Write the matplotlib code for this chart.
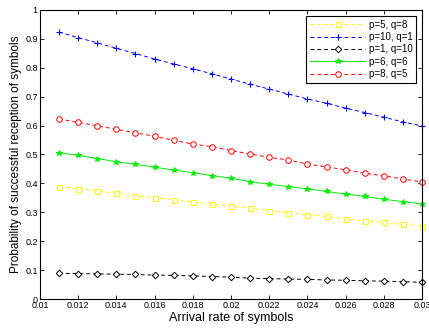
import matplotlib
matplotlib.use('Agg')
import matplotlib.pyplot as plt
import numpy as np
from matplotlib.ticker import FuncFormatter

plt.rcParams['font.family'] = ['Liberation Sans', 'DejaVu Sans']

# arrival rate of symbols
x = np.arange(11, 31) / 1000.0

p5_q8 = [0.389, 0.382, 0.374, 0.366, 0.357, 0.351, 0.343, 0.336, 0.329, 0.321,
         0.314, 0.306, 0.299, 0.291, 0.286, 0.277, 0.271, 0.265, 0.258, 0.253]
p10_q1 = [0.923, 0.904, 0.886, 0.867, 0.849, 0.830, 0.813, 0.796, 0.779, 0.761,
          0.743, 0.726, 0.709, 0.692, 0.677, 0.660, 0.645, 0.629, 0.612, 0.599]
p1_q10 = [0.089, 0.088, 0.087, 0.086, 0.085, 0.083, 0.082, 0.080, 0.078, 0.076,
          0.072, 0.071, 0.069, 0.068, 0.066, 0.065, 0.063, 0.062, 0.060, 0.058]
p6_q6 = [0.506, 0.497, 0.486, 0.475, 0.466, 0.456, 0.446, 0.437, 0.427, 0.418,
         0.406, 0.397, 0.389, 0.381, 0.372, 0.363, 0.355, 0.345, 0.337, 0.329]
p8_q5 = [0.623, 0.611, 0.599, 0.587, 0.575, 0.563, 0.549, 0.536, 0.527, 0.513,
         0.502, 0.490, 0.481, 0.467, 0.457, 0.447, 0.435, 0.426, 0.415, 0.405]

fig = plt.figure(figsize=(4.29, 3.29), dpi=100)
ax = fig.add_axes([0.093, 0.091, 0.891, 0.879])

dash = (0, (4, 3))
ax.plot(x, p5_q8, color='yellow', linestyle=dash, marker='s', mfc='white', ms=3.6,
        lw=0.7, mew=0.7, label='p=5, q=8', clip_on=False)
ax.plot(x, p10_q1, color='blue', linestyle=dash, marker='+', ms=5,
        lw=0.7, mew=0.8, label='p=10, q=1', clip_on=False)
ax.plot(x, p1_q10, color='black', linestyle=dash, marker='D', mfc='white', ms=3.3,
        lw=0.7, mew=0.7, label='p=1, q=10', clip_on=False)
ax.plot(x, p6_q6, color='#00ee00', linestyle='-', marker='*', ms=4,
        lw=0.7, mew=0.7, label='p=6, q=6', clip_on=False)
ax.plot(x, p8_q5, color='red', linestyle=dash, marker='o', mfc='white', ms=4,
        lw=0.7, mew=0.7, label='p=8, q=5', clip_on=False)

ax.set_xlim(0.01, 0.03)
ax.set_ylim(0, 1)
ax.set_xticks(np.arange(0.01, 0.0301, 0.002))
ax.set_yticks(np.arange(0, 1.01, 0.1))
ax.xaxis.set_major_formatter(FuncFormatter(lambda v, p: '%g' % round(v, 4)))
ax.yaxis.set_major_formatter(FuncFormatter(lambda v, p: '%g' % round(v, 2)))
ax.tick_params(direction='in', top=True, right=True, labelsize=6.5, length=3, width=0.6, pad=1.5)
for s in ax.spines.values():
    s.set_linewidth(0.8)

ax.set_xlabel('Arrival rate of symbols', fontsize=9, labelpad=1)
ax.set_ylabel('Probability of successful reception of symbols', fontsize=8.5, labelpad=2)

leg = ax.legend(loc='upper right', fontsize=7, fancybox=False, edgecolor='black',
                framealpha=1, handlelength=5.6, borderaxespad=0.6, labelspacing=0.25,
                borderpad=0.4, handletextpad=0.4)
leg.get_frame().set_linewidth(0.8)

fig.savefig('out.png', dpi=100)
